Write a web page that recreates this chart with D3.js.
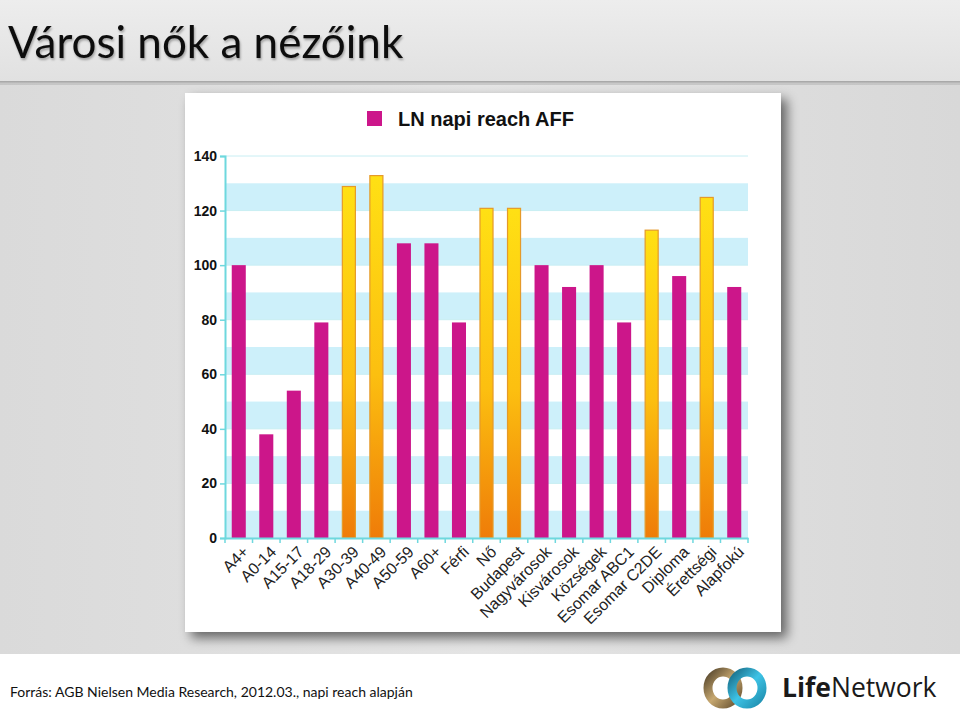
<!DOCTYPE html>
<html><head><meta charset="utf-8">
<script src="https://cdn.jsdelivr.net/npm/d3@7/dist/d3.min.js"></script>
<style>body{margin:0;padding:0;overflow:hidden;background:#fff}svg{display:block}</style>
</head><body>
<script>
const categories = ["A4+","A0-14","A15-17","A18-29","A30-39","A40-49","A50-59","A60+","Férfi","Nő","Budapest","Nagyvárosok","Kisvárosok","Községek","Esomar ABC1","Esomar C2DE","Diploma","Érettségi","Alapfokú"];
const values = [100,38,54,79,129,133,108,108,79,121,121,100,92,100,79,113,96,125,92];
const highlighted = [false,false,false,false,true,true,false,false,false,true,true,false,false,false,false,true,false,true,false];
const yTicks = [0,20,40,60,80,100,120,140];
const bandStarts = [0,20,40,60,80,100,120];
const seriesName = "LN napi reach AFF";
const title = "Városi nők a nézőink";
const source = "Forrás: AGB Nielsen Media Research, 2012.03., napi reach alapján";

const W = 960, H = 720;
const svg = d3.select("body").append("svg").attr("width", W).attr("height", H);
const defs = svg.append("defs");

const bg = defs.append("linearGradient").attr("id","bg").attr("x1",0).attr("x2",1).attr("y1",0).attr("y2",0);
bg.append("stop").attr("offset",0).attr("stop-color","#dadada");
bg.append("stop").attr("offset",0.5).attr("stop-color","#e4e4e4");
bg.append("stop").attr("offset",1).attr("stop-color","#d8d8d8");
const tb = defs.append("linearGradient").attr("id","tb").attr("x1",0).attr("x2",0).attr("y1",0).attr("y2",1);
tb.append("stop").attr("offset",0).attr("stop-color","#ededed");
tb.append("stop").attr("offset",1).attr("stop-color","#e1e1e1");
const barG = defs.append("linearGradient").attr("id","barY").attr("x1",0).attr("x2",0).attr("y1",0).attr("y2",1);
barG.append("stop").attr("offset",0).attr("stop-color","#ffe014");
barG.append("stop").attr("offset",0.55).attr("stop-color","#fcbf10");
barG.append("stop").attr("offset",1).attr("stop-color","#ef7c08");
const sh = defs.append("filter").attr("id","shadow").attr("x","-10%").attr("y","-10%").attr("width","130%").attr("height","130%");
sh.append("feGaussianBlur").attr("in","SourceAlpha").attr("stdDeviation",6);
sh.append("feOffset").attr("dx",6).attr("dy",6).attr("result","ob");
sh.append("feComponentTransfer").append("feFuncA").attr("type","linear").attr("slope",0.55);
const m = sh.append("feMerge"); m.append("feMergeNode"); m.append("feMergeNode").attr("in","SourceGraphic");
const tsh = defs.append("filter").attr("id","tshadow");
tsh.append("feDropShadow").attr("dx",1).attr("dy",2).attr("stdDeviation",1.2).attr("flood-color","#000").attr("flood-opacity",0.3);

svg.append("rect").attr("x",0).attr("y",0).attr("width",W).attr("height",655).attr("fill","url(#bg)");
svg.append("rect").attr("x",0).attr("y",80).attr("width",W).attr("height",5).attr("fill","#b8b8b8").attr("opacity",0.6);
svg.append("rect").attr("x",0).attr("y",0).attr("width",W).attr("height",81).attr("fill","url(#tb)");
svg.append("rect").attr("x",0).attr("y",81).attr("width",W).attr("height",1.5).attr("fill","#a9a9a9");
svg.append("rect").attr("x",0).attr("y",654).attr("width",W).attr("height",66).attr("fill","#ffffff");

svg.append("text").attr("x",8).attr("y",58).attr("font-family","Lato, 'Open Sans', sans-serif")
  .attr("font-size",44).attr("fill","#111").attr("filter","url(#tshadow)").text(title);

svg.append("rect").attr("x",185).attr("y",93).attr("width",596).attr("height",539).attr("fill","#fff").attr("filter","url(#shadow)");

const x0 = 225, x1 = 748, yTop = 156, yBot = 538;
const x = d3.scaleBand().domain(categories).range([x0, x1]).paddingInner(0.49).paddingOuter(0.245);
const xb = d3.scaleBand().domain(categories).range([x0, x1]);
const y = d3.scaleLinear().domain([0,140]).range([yBot, yTop]);

const g = svg.append("g");
g.selectAll("rect.band").data(bandStarts).join("rect").attr("class","band")
  .attr("x", x0).attr("width", x1 - x0)
  .attr("y", d => y(d + 10)).attr("height", d => y(d) - y(d + 10)).attr("fill","#cdf0fa");
g.selectAll("line.grid").data(yTicks).join("line").attr("class","grid")
  .attr("x1",x0).attr("x2",x1).attr("y1",d=>y(d)).attr("y2",d=>y(d)).attr("stroke","#c8eef3").attr("stroke-width",1);

g.selectAll("rect.bar").data(values).join("rect").attr("class","bar")
  .attr("x",(d,i)=>x(categories[i]) + (highlighted[i]?0.5:0))
  .attr("width",(d,i)=>x.bandwidth() - (highlighted[i]?1:0))
  .attr("y",(d,i)=>y(d) + (highlighted[i]?0.5:0))
  .attr("height",(d,i)=>y(0)-y(d) - (highlighted[i]?0.5:0))
  .attr("fill",(d,i)=>highlighted[i] ? "url(#barY)" : "#cc168a")
  .attr("stroke",(d,i)=>highlighted[i] ? "#e59a2a" : "none")
  .attr("stroke-width",1.2);

const yAxis = d3.axisLeft(y).tickValues(yTicks).tickSize(5).tickPadding(3);
const ya = svg.append("g").attr("transform",`translate(${x0},0)`).call(yAxis);
ya.select(".domain").attr("stroke","#6ed8de").attr("stroke-width",2);
ya.selectAll(".tick line").attr("stroke","#6ed8de").attr("stroke-width",1.5);
ya.selectAll(".tick text").attr("font-family","'Liberation Sans', Arial, sans-serif").attr("font-weight","bold")
  .attr("font-size",14).attr("fill","#111");

const xAxis = d3.axisBottom(xb).tickSize(0).tickFormat("");
const xa = svg.append("g").attr("transform",`translate(0,${yBot})`).call(xAxis);
xa.select(".domain").attr("stroke","#6ed8de").attr("stroke-width",2);
svg.append("g").selectAll("line").data(categories.concat(["__end"])).join("line")
  .attr("x1",(d,i)=> x0 + i*xb.step()).attr("x2",(d,i)=> x0 + i*xb.step())
  .attr("y1",yBot).attr("y2",yBot+5).attr("stroke","#6ed8de").attr("stroke-width",1.5);
svg.append("g").selectAll("text").data(categories).join("text")
  .attr("transform", d => `translate(${xb(d) + xb.bandwidth()/2 + 3},${yBot + 7}) rotate(-45)`)
  .attr("text-anchor","end").attr("dy","0.7em")
  .attr("font-family","'Liberation Sans', Arial, sans-serif").attr("font-size",16).attr("fill","#222")
  .text(d => d);

svg.append("rect").attr("x",367).attr("y",111).attr("width",15).attr("height",15).attr("fill","#cc168a");
svg.append("text").attr("x",398).attr("y",126).attr("font-family","'Liberation Sans', Arial, sans-serif")
  .attr("font-weight","bold").attr("font-size",20).attr("fill","#111").text(seriesName);

svg.append("text").attr("x",10).attr("y",697).attr("font-family","Lato, 'Open Sans', sans-serif")
  .attr("font-size",14).attr("fill","#111").text(source);

const lg1 = defs.append("linearGradient").attr("id","ringA").attr("x1",0).attr("x2",1).attr("y1",0).attr("y2",1);
lg1.append("stop").attr("offset",0).attr("stop-color","#5a4a30");
lg1.append("stop").attr("offset",0.5).attr("stop-color","#c7a870");
lg1.append("stop").attr("offset",1).attr("stop-color","#6b5533");
const lg2 = defs.append("linearGradient").attr("id","ringB").attr("x1",0).attr("x2",1).attr("y1",0).attr("y2",1);
lg2.append("stop").attr("offset",0).attr("stop-color","#1a6f8a");
lg2.append("stop").attr("offset",0.5).attr("stop-color","#3ec3e6");
lg2.append("stop").attr("offset",1).attr("stop-color","#1f8fb0");
svg.append("ellipse").attr("cx",723).attr("cy",688).attr("rx",15).attr("ry",16).attr("fill","none").attr("stroke","url(#ringA)").attr("stroke-width",9);
svg.append("ellipse").attr("cx",747).attr("cy",688).attr("rx",15).attr("ry",16).attr("fill","none").attr("stroke","url(#ringB)").attr("stroke-width",9);
const lt = svg.append("text").attr("x",782).attr("y",697).attr("font-family","'Open Sans', Lato, sans-serif")
  .attr("font-size",26.5).attr("fill","#1a1a1a");
lt.append("tspan").attr("font-weight","bold").text("Life");
lt.append("tspan").text("Network");
</script>
</body></html>
